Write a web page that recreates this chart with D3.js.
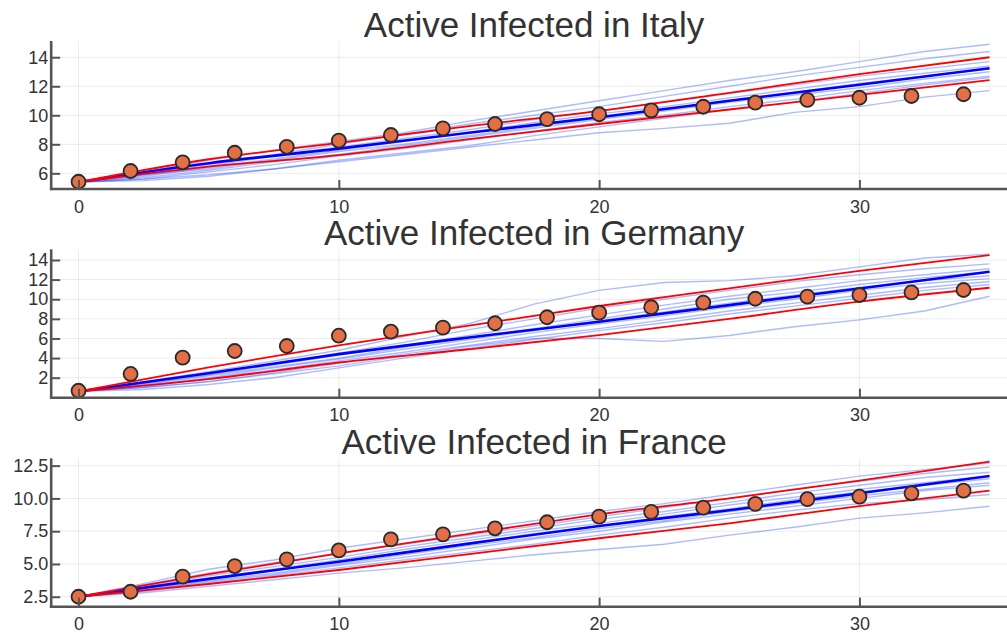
<!DOCTYPE html>
<html>
<head>
<meta charset="utf-8">
<script src="https://cdn.jsdelivr.net/npm/d3@7"></script>
<style>
  html, body { margin: 0; padding: 0; background: #fff; }
  svg { display: block; }
  text { font-family: "Liberation Sans", Arial, sans-serif; fill: #333; }
</style>
</head>
<body>
<svg id="chart" width="1007" height="632"></svg>
<script>
// ---- data ----------------------------------------------------------------
const obsDays = [0, 2, 4, 6, 8, 10, 12, 14, 16, 18, 20, 22, 24, 26, 28, 30, 32, 34];
const italyObs   = [5.42, 6.16, 6.76, 7.42, 7.83, 8.25, 8.64, 9.10, 9.40, 9.74, 10.07, 10.34, 10.59, 10.87, 11.06, 11.21, 11.33, 11.45];
const germanyObs = [0.67, 2.38, 4.04, 4.72, 5.23, 6.28, 6.69, 7.10, 7.55, 8.16, 8.63, 9.18, 9.65, 10.05, 10.26, 10.43, 10.70, 10.94];
const franceObs  = [2.50, 2.88, 4.03, 4.84, 5.35, 6.03, 6.88, 7.26, 7.72, 8.18, 8.61, 8.97, 9.29, 9.58, 9.94, 10.13, 10.39, 10.59];

// mean and band curves
const bandDays = [0, 5, 10, 15, 20, 25, 30, 35];
const italyMean    = [5.4, 6.70, 7.70, 8.80, 9.86, 11.00, 12.10, 13.24];
const italyUpper   = [5.4, 6.97, 8.10, 9.25, 10.30, 11.55, 12.83, 14.00];
const italyLower   = [5.4, 6.46, 7.25, 8.35, 9.40, 10.40, 11.41, 12.43];
const germanyMean  = [0.6, 2.45, 4.40, 6.10, 7.71, 9.40, 11.10, 12.80];
const germanyUpper = [0.6, 3.05, 5.30, 7.30, 9.31, 11.10, 12.90, 14.50];
const germanyLower = [0.6, 1.85, 3.55, 4.90, 6.35, 8.00, 9.75, 11.17];
const franceMean   = [2.5, 3.86, 5.17, 6.55, 7.90, 9.10, 10.39, 11.71];
const franceUpper  = [2.5, 4.22, 5.81, 7.30, 8.79, 10.00, 11.35, 12.80];
const franceLower  = [2.5, 3.47, 4.54, 5.75, 6.96, 8.10, 9.42, 10.59];

// simulated trajectories
const pathDays = [0, 2.5, 5, 7.5, 10, 12.5, 15, 17.5, 20, 22.5, 25, 27.5, 30, 32.5, 35];
const italyPaths = [
  [5.4, 6.1, 6.9, 7.6, 8.2, 8.8, 9.6, 10.3, 11.0, 11.7, 12.4, 13.0, 13.7, 14.4, 14.9],
  [5.4, 6.0, 6.6, 7.3, 8.0, 8.7, 9.4, 10.0, 10.6, 11.3, 12.0, 12.7, 13.3, 13.9, 14.4],
  [5.4, 5.9, 6.5, 7.2, 7.8, 8.4, 9.0, 9.7, 10.3, 10.9, 11.5, 12.1, 12.7, 13.2, 13.7],
  [5.4, 5.8, 6.4, 7.0, 7.6, 8.2, 8.8, 9.5, 10.1, 10.6, 11.2, 11.8, 12.4, 12.9, 13.4],
  [5.4, 5.9, 6.3, 6.9, 7.5, 8.0, 8.6, 9.2, 9.8, 10.4, 11.0, 11.6, 12.2, 12.7, 13.2],
  [5.4, 5.7, 6.2, 6.8, 7.3, 7.9, 8.5, 9.1, 9.7, 10.3, 10.9, 11.4, 11.9, 12.5, 13.0],
  [5.4, 5.6, 6.1, 6.6, 7.2, 7.7, 8.3, 8.9, 9.5, 10.0, 10.6, 11.1, 11.7, 12.2, 12.7],
  [5.4, 5.5, 5.8, 6.3, 6.9, 7.4, 7.9, 8.6, 9.2, 9.8, 10.4, 10.9, 11.5, 12.1, 12.6],
  [5.4, 5.6, 5.9, 6.3, 6.8, 7.3, 7.8, 8.3, 8.8, 9.1, 9.45, 10.2, 10.6, 11.25, 11.7]
];
const germanyPaths = [
  [0.6, 1.6, 2.6, 3.7, 4.8, 6.2, 7.5, 9.5, 10.9, 11.7, 11.9, 12.4, 13.3, 14.2, 14.6],
  [0.6, 1.5, 2.5, 3.4, 4.5, 5.6, 6.9, 8.0, 9.1, 10.0, 10.9, 11.8, 12.5, 13.1, 13.6],
  [0.6, 1.4, 2.3, 3.3, 4.3, 5.3, 6.3, 7.4, 8.4, 9.4, 10.3, 11.1, 11.9, 12.5, 13.1],
  [0.6, 1.3, 2.2, 3.1, 4.0, 5.1, 6.1, 7.0, 8.0, 9.0, 10.0, 10.7, 11.5, 12.2, 12.8],
  [0.6, 1.2, 2.0, 3.0, 3.9, 4.9, 5.9, 6.8, 7.8, 8.7, 9.6, 10.4, 11.2, 11.9, 12.4],
  [0.6, 1.1, 1.9, 2.8, 3.7, 4.6, 5.6, 6.6, 7.5, 8.3, 9.2, 10.0, 10.9, 11.6, 12.1],
  [0.6, 1.0, 1.6, 2.5, 3.5, 4.4, 5.3, 6.2, 7.0, 7.9, 8.8, 9.6, 10.4, 11.2, 11.8],
  [0.6, 0.8, 1.3, 2.0, 3.0, 4.0, 5.0, 5.9, 6.8, 7.6, 8.5, 9.3, 10.1, 10.9, 11.5],
  [0.6, 1.0, 1.6, 2.4, 3.2, 4.2, 5.2, 6.0, 6.0, 5.7, 6.3, 7.2, 7.9, 8.8, 10.3]
];
const francePaths = [
  [2.5, 3.5, 4.6, 5.3, 6.2, 6.9, 7.6, 8.3, 9.0, 9.6, 10.3, 11.0, 11.7, 12.2, 12.7],
  [2.5, 3.4, 4.3, 5.1, 5.8, 6.5, 7.2, 7.9, 8.6, 9.3, 10.0, 10.7, 11.3, 11.9, 12.4],
  [2.5, 3.3, 4.1, 4.8, 5.5, 6.3, 7.0, 7.7, 8.4, 9.0, 9.7, 10.4, 11.0, 11.6, 12.0],
  [2.5, 3.2, 3.9, 4.6, 5.3, 6.1, 6.8, 7.5, 8.1, 8.8, 9.5, 10.1, 10.7, 11.2, 11.7],
  [2.5, 3.1, 3.8, 4.5, 5.2, 5.9, 6.6, 7.3, 7.9, 8.6, 9.2, 9.9, 10.5, 11.0, 11.5],
  [2.5, 3.0, 3.7, 4.3, 5.0, 5.7, 6.4, 7.0, 7.7, 8.3, 9.0, 9.6, 10.2, 10.7, 11.2],
  [2.5, 2.9, 3.5, 4.1, 4.7, 5.3, 5.9, 6.5, 7.2, 7.8, 8.5, 9.1, 9.6, 9.9, 10.3],
  [2.5, 2.8, 3.3, 3.8, 4.3, 4.7, 5.2, 5.7, 6.1, 6.5, 7.2, 7.8, 8.5, 8.9, 9.4],
  [2.5, 3.0, 3.6, 4.2, 4.9, 5.5, 6.2, 6.9, 7.5, 8.2, 8.8, 9.4, 10.0, 10.6, 11.0]
];

const xTicks = [0, 10, 20, 30];
const italyTicks   = [6, 8, 10, 12, 14];
const germanyTicks = [2, 4, 6, 8, 10, 12, 14];
const franceTicks  = [2.5, 5, 7.5, 10, 12.5];

const panels = [
  { title: "Active Infected in Italy",   obs: italyObs,   mean: italyMean,   upper: italyUpper,   lower: italyLower,
    paths: italyPaths,   yDomain: [4.92, 15.12], yTicks: italyTicks,   fmt: d3.format("d"),   top: 41,    bottom: 189 },
  { title: "Active Infected in Germany", obs: germanyObs, mean: germanyMean, upper: germanyUpper, lower: germanyLower,
    paths: germanyPaths, yDomain: [-0.04, 15.09], yTicks: germanyTicks, fmt: d3.format("d"),   top: 249.3, bottom: 397.7 },
  { title: "Active Infected in France",  obs: franceObs,  mean: franceMean,  upper: franceUpper,  lower: franceLower,
    paths: francePaths,  yDomain: [1.74, 13.06], yTicks: franceTicks,  fmt: d3.format(".1f"), top: 458.3, bottom: 606.7 }
];

// ---- drawing -------------------------------------------------------------
const svg = d3.select("#chart");
svg.append("rect").attr("width", 1007).attr("height", 632).attr("fill", "#fff");

const xDomain = [-1.05, 36.05];
const x = d3.scaleLinear().domain(xDomain).range([51.2, 1016.9]);
const axisColor = "#555";

panels.forEach(p => {
  const y = d3.scaleLinear().domain(p.yDomain).range([p.bottom, p.top]);
  const g = svg.append("g");

  // grid
  g.selectAll(".vgrid").data(xTicks).join("line")
    .attr("x1", d => x(d)).attr("x2", d => x(d))
    .attr("y1", p.top).attr("y2", p.bottom)
    .attr("stroke", "#000").attr("stroke-opacity", 0.08).attr("stroke-width", 1);
  g.selectAll(".hgrid").data(p.yTicks).join("line")
    .attr("x1", x(xDomain[0])).attr("x2", x(xDomain[1]))
    .attr("y1", d => y(d)).attr("y2", d => y(d))
    .attr("stroke", "#000").attr("stroke-opacity", 0.08).attr("stroke-width", 1);

  // simulated trajectories
  const pathLine = d3.line().x((d, i) => x(pathDays[i])).y(d => y(d));
  g.selectAll(".sim").data(p.paths).join("path")
    .attr("d", pathLine)
    .attr("fill", "none")
    .attr("stroke", "rgb(40,80,255)")
    .attr("stroke-opacity", 0.38)
    .attr("stroke-width", 1.4);

  // mean and band
  const bandLine = d3.line().curve(d3.curveMonotoneX).x((d, i) => x(bandDays[i])).y(d => y(d));
  g.append("path").attr("d", bandLine(p.mean)).attr("fill", "none")
    .attr("stroke", "#0000ff").attr("stroke-width", 2.6);
  [p.upper, p.lower].forEach(b => {
    g.append("path").attr("d", bandLine(b)).attr("fill", "none")
      .attr("stroke", "#ff0000").attr("stroke-width", 1.8);
  });

  // observations
  g.selectAll(".obs").data(p.obs).join("circle")
    .attr("cx", (d, i) => x(obsDays[i]))
    .attr("cy", d => y(d))
    .attr("r", 7)
    .attr("fill", "#e36f47")
    .attr("stroke", "#2a2a2a")
    .attr("stroke-width", 1.8);

  // axes: left and bottom spines with inward ticks
  const yAxis = d3.axisLeft(y).tickValues(p.yTicks).tickFormat(p.fmt).tickSize(-9).tickPadding(3);
  const ya = g.append("g").attr("transform", `translate(${x(xDomain[0])},0)`).call(yAxis);
  const xAxis = d3.axisBottom(x).tickValues(xTicks).tickFormat(d3.format("d")).tickSize(-9).tickPadding(11);
  const xa = g.append("g").attr("transform", `translate(0,${p.bottom})`).call(xAxis);
  [ya, xa].forEach(a => {
    a.select(".domain").remove();
    a.selectAll(".tick line").attr("stroke", axisColor).attr("stroke-width", 2);
    a.selectAll(".tick text").style("font-family", '"Liberation Sans", Arial, sans-serif')
      .style("font-size", "18px").attr("fill", "#333");
  });
  g.append("line").attr("x1", x(xDomain[0])).attr("x2", x(xDomain[0]))
    .attr("y1", p.top).attr("y2", p.bottom + 1.2)
    .attr("stroke", axisColor).attr("stroke-width", 2.6);
  g.append("line").attr("x1", x(xDomain[0]) - 1.3).attr("x2", x(xDomain[1]))
    .attr("y1", p.bottom).attr("y2", p.bottom)
    .attr("stroke", axisColor).attr("stroke-width", 2.6);

  // title
  g.append("text")
    .attr("x", (x(xDomain[0]) + x(xDomain[1])) / 2)
    .attr("y", p.top - 4.3)
    .attr("text-anchor", "middle")
    .style("font-size", "35px")
    .text(p.title);
});
</script>
</body>
</html>
